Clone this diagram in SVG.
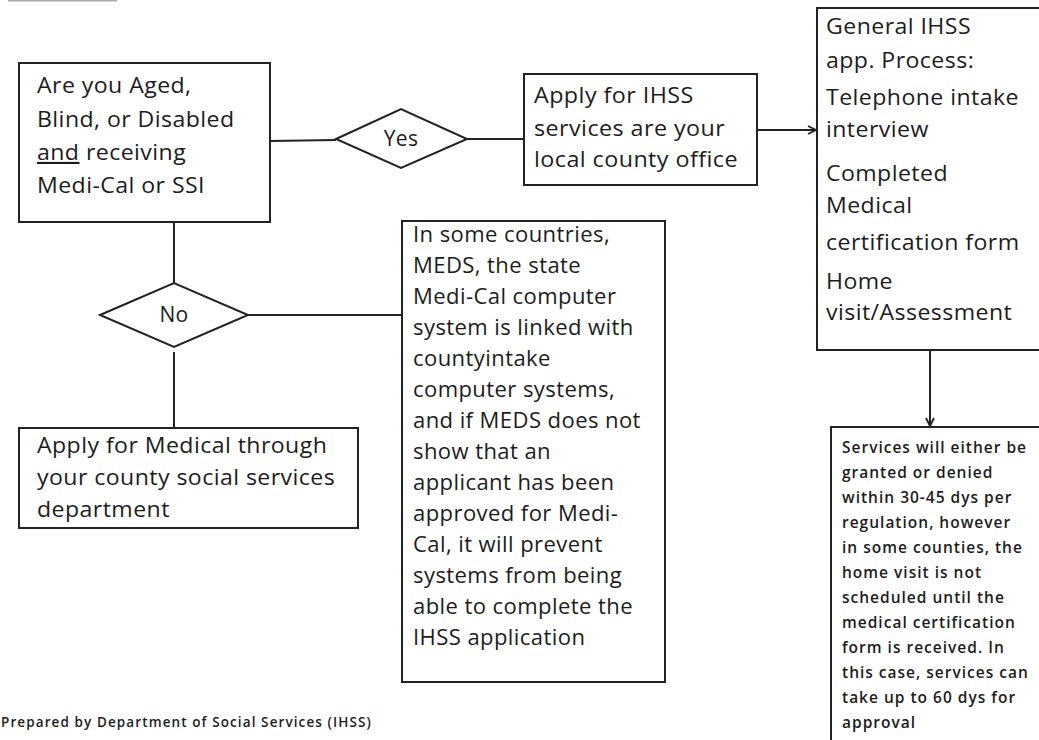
<svg xmlns="http://www.w3.org/2000/svg" width="1039" height="740" viewBox="0 0 1039 740">
<defs>
<marker id="arr" markerWidth="10" markerHeight="10" refX="9" refY="5" orient="auto" markerUnits="userSpaceOnUse">
<path d="M1,1 L9,5 L1,9" fill="none" stroke="#222" stroke-width="1.8"/>
</marker>
<style>
.box{fill:#fff;stroke:#222;stroke-width:2}
.dia{fill:#fff;stroke:#222;stroke-width:2}
.t{font-family:"Open Sans","DejaVu Sans",sans-serif;font-size:21px;fill:#1c1c1c;letter-spacing:0.4px}
.s{font-family:"Open Sans","DejaVu Sans",sans-serif;font-size:15.5px;font-weight:600;fill:#1c1c1c;letter-spacing:1px}
.f{font-family:"Open Sans","DejaVu Sans",sans-serif;font-size:13.5px;font-weight:600;fill:#1c1c1c;letter-spacing:1.1px}
.c{fill:none;stroke:#222;stroke-width:2}
</style>
</defs>
<rect width="1039" height="740" fill="#fff"/>
<line x1="8" y1="0.5" x2="117" y2="0.5" stroke="#aaa" stroke-width="2"/>

<g id="connectors">
<line class="c" x1="270" y1="141" x2="336" y2="140"/>
<line class="c" x1="467" y1="139" x2="524" y2="139"/>
<line class="c" x1="757" y1="130" x2="816" y2="130" marker-end="url(#arr)"/>
<line class="c" x1="174" y1="202" x2="174" y2="283"/>
<line class="c" x1="174" y1="352" x2="174" y2="428"/>
<line class="c" x1="248" y1="315" x2="402" y2="315"/>
<line class="c" x1="930" y1="350" x2="930" y2="426" marker-end="url(#arr)"/>
</g>

<g id="node-question">
<rect class="box" x="19" y="63" width="251" height="159"/>
<g transform="translate(37 0) scale(1.1 1)">
<text class="t" x="0" y="93">Are you Aged,</text>
<text class="t" x="0" y="127">Blind, or Disabled</text>
<text class="t" x="0" y="160"><tspan text-decoration="underline">and</tspan> receiving</text>
<text class="t" x="0" y="193">Medi-Cal or SSI</text>
</g>
</g>

<g id="node-yes">
<polygon class="dia" points="336,139 401,109 467,139 401,168"/>
<text class="t" x="401" y="146" text-anchor="middle">Yes</text>
</g>

<g id="node-apply-ihss">
<rect class="box" x="524" y="74" width="233" height="111"/>
<g transform="translate(534 0) scale(1.11 1)">
<text class="t" x="0" y="103">Apply for IHSS</text>
<text class="t" x="0" y="136">services are your</text>
<text class="t" x="0" y="167">local county office</text>
</g>
</g>

<g id="node-general">
<rect class="box" x="817" y="8" width="230" height="342"/>
<g transform="translate(826 0) scale(1.1 1)">
<text class="t" x="0" y="34">General IHSS</text>
<text class="t" x="0" y="68">app. Process:</text>
<text class="t" x="0" y="105">Telephone intake</text>
<text class="t" x="0" y="137">interview</text>
<text class="t" x="0" y="181">Completed</text>
<text class="t" x="0" y="213">Medical</text>
<text class="t" x="0" y="250">certification form</text>
<text class="t" x="0" y="289">Home</text>
<text class="t" x="0" y="320">visit/Assessment</text>
</g>
</g>

<g id="node-no">
<polygon class="dia" points="100,315 174,283 248,315 174,347"/>
<text class="t" x="174" y="322" text-anchor="middle">No</text>
</g>

<g id="node-meds">
<rect class="box" x="402" y="221" width="263" height="461"/>
<g transform="translate(413 0) scale(1.05 1)">
<text class="t" x="0" y="242">In some countries,</text>
<text class="t" x="0" y="273">MEDS, the state</text>
<text class="t" x="0" y="304">Medi-Cal computer</text>
<text class="t" x="0" y="335">system is linked with</text>
<text class="t" x="0" y="366">countyintake</text>
<text class="t" x="0" y="397">computer systems,</text>
<text class="t" x="0" y="428">and if MEDS does not</text>
<text class="t" x="0" y="459">show that an</text>
<text class="t" x="0" y="490">applicant has been</text>
<text class="t" x="0" y="521">approved for Medi-</text>
<text class="t" x="0" y="552">Cal, it will prevent</text>
<text class="t" x="0" y="583">systems from  being</text>
<text class="t" x="0" y="614">able to complete the</text>
<text class="t" x="0" y="645">IHSS application</text>
</g>
</g>

<g id="node-apply-medical">
<rect class="box" x="19" y="428" width="339" height="100"/>
<g transform="translate(37 0) scale(1.1 1)">
<text class="t" x="0" y="453">Apply for Medical  through</text>
<text class="t" x="0" y="485">your county  social services</text>
<text class="t" x="0" y="517">department</text>
</g>
</g>

<g id="node-services">
<rect class="box" x="831" y="427" width="220" height="320"/>
<text class="s" x="842" y="453">Services will either be</text>
<text class="s" x="842" y="478">granted or denied</text>
<text class="s" x="842" y="503">within 30-45 dys per</text>
<text class="s" x="842" y="528">regulation, however</text>
<text class="s" x="842" y="553">in some counties, the</text>
<text class="s" x="842" y="578">home visit is not</text>
<text class="s" x="842" y="603">scheduled until the</text>
<text class="s" x="842" y="628">medical certification</text>
<text class="s" x="842" y="653">form is received. In</text>
<text class="s" x="842" y="678">this case, services can</text>
<text class="s" x="842" y="703">take up to 60 dys for</text>
<text class="s" x="842" y="728">approval</text>
</g>

<g id="footer">
<text class="f" x="1" y="727">Prepared by Department of Social Services (IHSS)</text>
</g>
</svg>
